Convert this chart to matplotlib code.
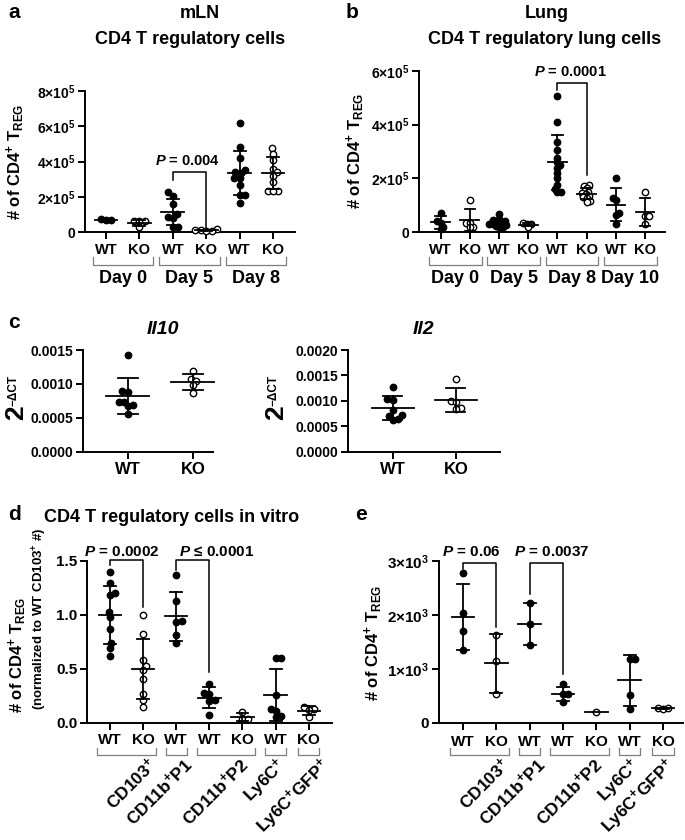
import numpy as np
import matplotlib
matplotlib.use('Agg')
import matplotlib.pyplot as plt
import matplotlib.transforms as mtrans

# ---------------- data ----------------
# Panel a: mLN CD4 T regulatory cells (units of 1e5 cells)
a_labels = ['WT', 'KO', 'WT', 'KO', 'WT', 'KO']
a_days = ['Day 0', 'Day 5', 'Day 8']
a_wt_d0 = [0.66, 0.66, 0.74]
a_ko_d0 = [0.62, 0.62, 0.60, 0.28]
a_wt_d5 = [2.25, 2.07, 1.58, 1.00, 0.87, 0.78, 0.30, 0.30]
a_ko_d5 = [0.15, 0.12, 0.10, 0.08, 0.05]
a_wt_d8 = [6.18, 4.85, 4.19, 3.53, 3.40, 3.35, 3.09, 3.05, 2.67, 2.10, 2.10, 1.63]
a_ko_d8 = [4.75, 4.45, 4.10, 3.60, 3.40, 3.20, 2.85, 2.35, 2.30, 2.30]
a_pval = '0.004'

# Panel b: Lung CD4 T regulatory cells (units of 1e5 cells)
b_labels = ['WT', 'KO', 'WT', 'KO', 'WT', 'KO', 'WT', 'KO']
b_days = ['Day 0', 'Day 5', 'Day 8', 'Day 10']
b_wt_d0 = [0.72, 0.40, 0.35, 0.20, 0.12]
b_ko_d0 = [1.18, 0.35, 0.32, 0.20, 0.18]
b_wt_d5 = [0.68, 0.50, 0.45, 0.42, 0.38, 0.35, 0.33, 0.30, 0.28, 0.25, 0.22, 0.20, 0.18]
b_ko_d5 = [0.32, 0.30, 0.28, 0.18]
b_wt_d8 = [5.05, 4.10, 3.35, 3.05, 2.75, 2.60, 2.50, 2.40, 2.20, 2.00, 1.75, 1.60, 1.50, 1.50]
b_ko_d8 = [1.75, 1.70, 1.65, 1.55, 1.50, 1.45, 1.40, 1.35, 1.30, 1.25, 1.15, 1.10]
b_wt_d10 = [2.02, 1.25, 1.20, 0.72, 0.65, 0.30]
b_ko_d10 = [1.49, 0.60, 0.60, 0.30]
b_pval = '0.0001'

# Panel c: 2^-dCT (units of 1e-3)
c_labels = ['WT', 'KO']
c_il10_wt = [1.42, 0.89, 0.88, 0.74, 0.73, 0.69, 0.67, 0.55]
c_il10_ko = [1.19, 1.07, 1.04, 0.98, 0.86]
c_il2_wt = [1.28, 1.03, 1.02, 0.82, 0.72, 0.71, 0.64, 0.63]
c_il2_ko = [1.43, 1.00, 0.98, 0.85, 0.83]

# Panel d: normalized to WT CD103+
d_labels = ['WT', 'KO', 'WT', 'WT', 'KO', 'WT', 'KO']
d_groups = ['CD103$^{+}$', 'CD11b$^{+}$P1', 'CD11b$^{+}$P2', 'Ly6C$^{+}$', 'Ly6C$^{+}$GFP$^{+}$']
d_group_span = [(0, 1), (2, 2), (3, 4), (5, 5), (6, 6)]
d_cd103_wt = [1.40, 1.30, 1.20, 1.18, 1.03, 0.98, 0.87, 0.74, 0.69, 0.62]
d_cd103_ko = [1.00, 0.82, 0.58, 0.53, 0.49, 0.41, 0.27, 0.21, 0.15]
d_p1_wt = [1.37, 1.13, 0.94, 0.93, 0.81, 0.74]
d_p2_wt = [0.36, 0.28, 0.27, 0.21, 0.20, 0.07]
d_p2_ko = [0.10, 0.03, 0.03]
d_ly6c_wt = [0.60, 0.60, 0.26, 0.13, 0.11, 0.06, 0.05]
d_gfp_ko = [0.15, 0.13, 0.12, 0.05]
d_pvals = [('=', '0.0002'), ('\u2264', '0.0001')]

# Panel e: counts (units of 1e3)
e_cd103_wt = [2.77, 2.03, 1.70, 1.35]
e_cd103_ko = [1.63, 1.14, 0.53]
e_p1_wt = [2.23, 1.84, 1.45]
e_p2_wt = [0.71, 0.53, 0.53, 0.39]
e_p2_ko = [0.19]
e_ly6c_wt = [1.19, 1.19, 0.51, 0.25]
e_gfp_ko = [0.28, 0.25, 0.27]
e_pvals = [('=', '0.06'), ('=', '0.0037')]

# ---------------- style ----------------
plt.rcParams['font.family'] = ['Liberation Sans', 'DejaVu Sans']
plt.rcParams['font.weight'] = 'bold'
plt.rcParams['mathtext.fontset'] = 'custom'
plt.rcParams['mathtext.rm'] = 'Liberation Sans:bold'
plt.rcParams['mathtext.bf'] = 'Liberation Sans:bold'
plt.rcParams['mathtext.it'] = 'Liberation Sans:italic:bold'
plt.rcParams['axes.linewidth'] = 1.4

W, H = 685, 840
fig = plt.figure(figsize=(W / 100, H / 100), dpi=100)
MS = 4.6
GRAY = '#7f7f7f'


def ftext(x, y, s, **kw):
    return fig.text(x / W, 1 - y / H, s, **kw)


def make_ax(rect, xlim, ylim, yticks, yticklabels, npos, ytfs=10):
    l, t, r, b = rect
    ax = fig.add_axes([l / W, 1 - b / H, (r - l) / W, (b - t) / H])
    ax.set_xlim(*xlim)
    ax.set_ylim(*ylim)
    for s in ['top', 'right']:
        ax.spines[s].set_visible(False)
    ax.set_xticks(np.arange(npos))
    ax.set_xticklabels([])
    ax.set_yticks(yticks)
    ax.set_yticklabels(yticklabels, fontsize=ytfs, fontweight='bold')
    ax.tick_params(direction='out', length=5, width=1.4, pad=2)
    ax._rect = rect
    return ax


def blend(ax):
    return mtrans.blended_transform_factory(ax.transData, fig.transFigure)


def swarm_offsets(ax, vals, overlap):
    l, t, r, b = ax._rect
    x0, x1 = ax.get_xlim()
    y0, y1 = ax.get_ylim()
    sx = (r - l) / (x1 - x0)
    sy = (b - t) / (y1 - y0)
    d = MS * 100 / 72 * overlap
    ypx = np.asarray(vals) * sy
    order = np.argsort(ypx)
    placed = []
    offs = np.zeros(len(vals))
    side = 1
    for i in order:
        yi = ypx[i]
        cands = [0.0]
        for (xj, yj) in placed:
            dy = yi - yj
            if abs(dy) < d:
                dx = np.sqrt(d * d - dy * dy)
                cands += [xj + dx, xj - dx]
        valid = [c for c in cands
                 if all((c - xj) ** 2 + (yi - yj) ** 2 >= d * d - 1e-6 for (xj, yj) in placed)]
        valid.sort(key=lambda c: (round(abs(c), 3), -side * np.sign(c)))
        c = valid[0]
        if c != 0:
            side = -side
        placed.append((c, yi))
        offs[i] = c / sx
    return offs


def group(ax, pos, vals, filled, scale=1.0, mhw=0.34, chw=0.18, overlap=0.9):
    v = np.asarray(vals, dtype=float) * scale
    offs = swarm_offsets(ax, v, overlap)
    ax.plot(pos + offs, v, 'o', ms=MS, mfc='black' if filled else 'white',
            mec='black', mew=1.0, clip_on=False, zorder=3)
    m = v.mean()
    ax.plot([pos - mhw, pos + mhw], [m, m], color='black', lw=1.3, zorder=4, clip_on=False)
    if len(v) > 1:
        sd = v.std(ddof=1)
        ax.plot([pos, pos], [m - sd, m + sd], color='black', lw=1.3, zorder=4, clip_on=False)
        for yy in (m - sd, m + sd):
            ax.plot([pos - chw, pos + chw], [yy, yy], color='black', lw=1.3, zorder=4, clip_on=False)


def sig(ax, x0, x1, ytop, y0end, y1end):
    ax.plot([x0, x0, x1, x1], [y0end, ytop, ytop, y1end], color='black', lw=1.1,
            clip_on=False, zorder=5)


def under_labels(ax, labels, ylab, fs):
    tr = blend(ax)
    for i, s in enumerate(labels):
        ax.text(i, 1 - ylab / H, s, transform=tr, ha='center', va='center',
                fontsize=fs, fontweight='bold')


def bracket(ax, xa, xb, ytop, ybot):
    tr = blend(ax)
    ax.plot([xa, xa, xb, xb], [1 - ytop / H, 1 - ybot / H, 1 - ybot / H, 1 - ytop / H],
            color=GRAY, lw=0.9, transform=tr, clip_on=False)


def ptxt(rel, val):
    return r'$P$ ' + rel + ' ' + val


def group_labels(ax, shifts):
    tr = blend(ax)
    for (s, (ga, gb)), sh in zip(zip(d_groups, d_group_span), shifts):
        hw = 0.38 if gb > ga else 0.32
        bracket(ax, ga - hw, gb + hw, 748, 755)
        ax.text((ga + gb) / 2 + sh, 1 - 755 / H, s, transform=tr, rotation=45,
                rotation_mode='anchor', ha='right', va='top', fontsize=12.5, fontweight='bold')


# ---------------- panel a ----------------
axa = make_ax((85, 91, 295, 232), (-0.63, 5.66), (0, 8e5), [0, 2e5, 4e5, 6e5, 8e5],
              ['0', '2×10$^{5}$', '4×10$^{5}$', '6×10$^{5}$', '8×10$^{5}$'], 6)
for i, (vals, f) in enumerate([(a_wt_d0, True), (a_ko_d0, False), (a_wt_d5, True),
                                (a_ko_d5, False), (a_wt_d8, True), (a_ko_d8, False)]):
    group(axa, i, vals, f, scale=1e5, overlap=0.85)
sig(axa, 2, 3, 3.4e5, 2.95e5, 0.2e5)
axa.text(2.45, 4.03e5, ptxt('=', a_pval), ha='center', va='center', fontsize=10.5, fontweight='bold')
under_labels(axa, a_labels, 250, 10.5)
tr = blend(axa)
for k, s in enumerate(a_days):
    bracket(axa, 2 * k - 0.4, 2 * k + 1 + 0.4, 257, 265)
    axa.text(2 * k + 0.5, 1 - 279 / H, s, transform=tr, ha='center', va='center',
             fontsize=13, fontweight='bold')
ftext(15, 162, '# of CD4$^{+}$ T$_{\\mathrm{REG}}$', rotation=90, ha='center', va='center', fontsize=12)
ftext(8, 12, 'a', fontsize=15, ha='left', va='center')
ftext(200, 14, 'mLN', fontsize=13, ha='center', va='center')
ftext(190, 40, 'CD4 T regulatory cells', fontsize=13, ha='center', va='center')

# ---------------- panel b ----------------
axb = make_ax((419, 71, 665, 232), (-0.74, 7.68), (0, 6e5), [0, 2e5, 4e5, 6e5],
              ['0', '2×10$^{5}$', '4×10$^{5}$', '6×10$^{5}$'], 8)
for i, (vals, f) in enumerate([(b_wt_d0, True), (b_ko_d0, False), (b_wt_d5, True),
                                (b_ko_d5, False), (b_wt_d8, True), (b_ko_d8, False),
                                (b_wt_d10, True), (b_ko_d10, False)]):
    group(axb, i, vals, f, scale=1e5, mhw=0.32, overlap=0.55)
sig(axb, 4, 5, 5.55e5, 5.3e5, 2.12e5)
axb.text(4.43, 5.97e5, ptxt('=', b_pval), ha='center', va='center', fontsize=10.5, fontweight='bold')
under_labels(axb, b_labels, 250, 10.5)
tr = blend(axb)
for k, s in enumerate(b_days):
    bracket(axb, 2 * k - 0.4, 2 * k + 1 + 0.4, 257, 265)
    axb.text(2 * k + 0.5, 1 - 279 / H, s, transform=tr, ha='center', va='center',
             fontsize=13, fontweight='bold')
ftext(355, 151, '# of CD4$^{+}$ T$_{\\mathrm{REG}}$', rotation=90, ha='center', va='center', fontsize=12)
ftext(346, 12, 'b', fontsize=15, ha='left', va='center')
ftext(547, 14, 'Lung', fontsize=13, ha='center', va='center')
ftext(545, 40, 'CD4 T regulatory lung cells', fontsize=13, ha='center', va='center')

# ---------------- panel c ----------------
axc1 = make_ax((83, 350, 213, 451.7), (-0.69, 1.31), (0, 0.0015),
               [0, 0.0005, 0.0010, 0.0015], ['0.0000', '0.0005', '0.0010', '0.0015'], 2)
group(axc1, 0, c_il10_wt, True, scale=1e-3, mhw=0.33, chw=0.15, overlap=0.85)
group(axc1, 1, c_il10_ko, False, scale=1e-3, mhw=0.33, chw=0.15, overlap=0.85)
under_labels(axc1, c_labels, 470, 12)
axc2 = make_ax((348, 350, 500, 451.7), (-0.71, 1.7), (0, 0.0020),
               [0, 0.0005, 0.0010, 0.0015, 0.0020],
               ['0.0000', '0.0005', '0.0010', '0.0015', '0.0020'], 2)
group(axc2, 0, c_il2_wt, True, scale=1e-3, mhw=0.33, chw=0.15, overlap=0.85)
group(axc2, 1, c_il2_ko, False, scale=1e-3, mhw=0.33, chw=0.15, overlap=0.85)
under_labels(axc2, c_labels, 470, 12)
ftext(8, 322, 'c', fontsize=15, ha='left', va='center')
ftext(163, 330, 'Il10', fontsize=14, style='italic', ha='center', va='center')
ftext(423, 330, 'Il2', fontsize=14, style='italic', ha='center', va='center')
for xx in (0, 260):
    ftext(xx + 16, 413, '2', rotation=90, ha='center', va='center', fontsize=19)
    ftext(xx + 14, 390, '\u2212\u0394CT', rotation=90, ha='center', va='center', fontsize=8.5)

# ---------------- panel d ----------------
axd = make_ax((87, 561, 332, 722.7), (-0.69, 6.7), (0, 1.5), [0, 0.5, 1.0, 1.5],
              ['0.0', '0.5', '1.0', '1.5'], 7, ytfs=11)
for i, (vals, f) in enumerate([(d_cd103_wt, True), (d_cd103_ko, False), (d_p1_wt, True),
                                (d_p2_wt, True), (d_p2_ko, False), (d_ly6c_wt, True),
                                (d_gfp_ko, False)]):
    group(axd, i, vals, f, overlap=0.85)
sig(axd, 0, 1, 1.51, 1.46, 1.076)
sig(axd, 2, 3, 1.51, 1.42, 0.47)
axd.text(0.36, 1.58, ptxt(*d_pvals[0]), ha='center', va='center', fontsize=11, fontweight='bold')
axd.text(3.23, 1.58, ptxt(*d_pvals[1]), ha='center', va='center', fontsize=11, fontweight='bold')
under_labels(axd, d_labels, 740, 11)
group_labels(axd, [0.6, 0.2, 0.4, 0.0, 0.3])
ftext(8, 515, 'd', fontsize=15, ha='left', va='center')
ftext(172, 517, 'CD4 T regulatory cells in vitro', fontsize=13, ha='center', va='center')
ftext(17, 655, '# of CD4$^{+}$ T$_{\\mathrm{REG}}$', rotation=90, ha='center', va='center', fontsize=12)
ftext(40, 619, '(normalized to WT CD103$^{+}$ #)', rotation=90, ha='center', va='center', fontsize=9.5)

# ---------------- panel e ----------------
axe = make_ax((439, 561, 683, 722.7), (-0.72, 6.6), (0, 3000), [0, 1000, 2000, 3000],
              ['0', '1×10$^{3}$', '2×10$^{3}$', '3×10$^{3}$'], 7, ytfs=11)
for i, (vals, f) in enumerate([(e_cd103_wt, True), (e_cd103_ko, False), (e_p1_wt, True),
                                (e_p2_wt, True), (e_p2_ko, False), (e_ly6c_wt, True),
                                (e_gfp_ko, False)]):
    group(axe, i, vals, f, scale=1e3, overlap=0.85)
sig(axe, 0, 1, 2970, 2860, 1780)
sig(axe, 2, 3, 2970, 2380, 900)
axe.text(0.24, 3170, ptxt(*e_pvals[0]), ha='center', va='center', fontsize=11, fontweight='bold')
axe.text(2.67, 3170, ptxt(*e_pvals[1]), ha='center', va='center', fontsize=11, fontweight='bold')
under_labels(axe, d_labels, 742, 11)
group_labels(axe, [0.6, 0.2, 0.4, 0.0, 0.05])
ftext(355, 515, 'e', fontsize=15, ha='left', va='center')
ftext(373, 643, '# of CD4$^{+}$ T$_{\\mathrm{REG}}$', rotation=90, ha='center', va='center', fontsize=12)

fig.savefig('out.png', dpi=100)
